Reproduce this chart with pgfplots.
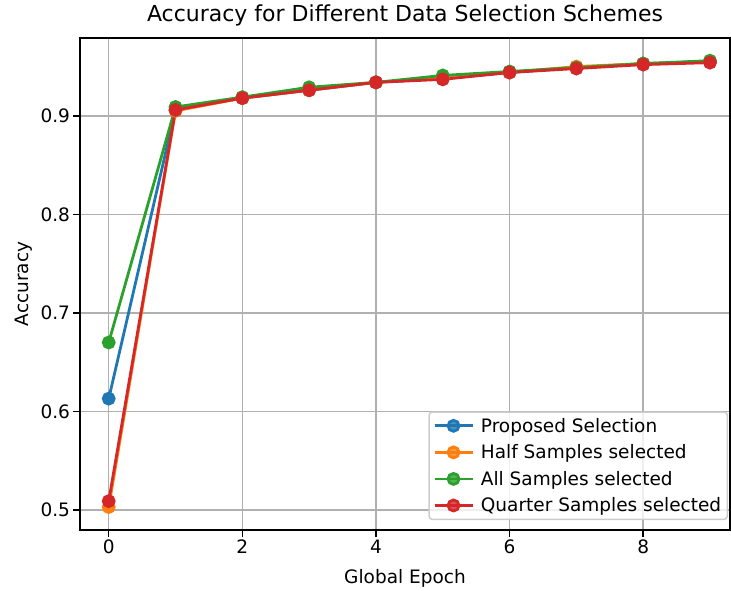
\documentclass[border=0pt]{standalone}
\usepackage{pgfplots}
\pgfplotsset{compat=1.18}
\usepackage{fontspec}
\setmainfont{DejaVu Sans}
\definecolor{c0}{HTML}{1F77B4}
\definecolor{c1}{HTML}{FF7F0E}
\definecolor{c2}{HTML}{2CA02C}
\definecolor{c3}{HTML}{D62728}
\begin{document}
\begin{tikzpicture}
\begin{axis}[
  scale only axis,
  width=650pt, height=492pt,
  xmin=-0.43, xmax=9.3,
  ymin=0.4797, ymax=0.979,
  xtick={0,2,4,6,8},
  ytick={0.5,0.6,0.7,0.8,0.9},
  /pgf/number format/assume math mode=true,
  yticklabel style={/pgf/number format/fixed,/pgf/number format/precision=1,/pgf/number format/fixed zerofill},
  tick style={black, line width=1.5pt},
  tick align=outside,
  major tick length=6.5pt,
  xtick pos=bottom, ytick pos=left,
  grid=major,
  major grid style={color=black!31, line width=1.5pt},
  axis line style={line width=1.5pt},
  tick label style={font=\fontsize{18.5}{22}\selectfont},
  xlabel style={font=\fontsize{18.5}{22}\selectfont, at={(axis description cs:0.5,-0.1077)}, anchor=base},
  ylabel style={font=\fontsize{18.5}{22}\selectfont, at={(axis description cs:-0.0785,0.5)}, anchor=base},
  title style={font=\fontsize{22}{26}\selectfont, at={(axis description cs:0.5,1.0215)}, anchor=base},
  title={Accuracy for Different Data Selection Schemes},
  xlabel={Global Epoch},
  ylabel={Accuracy},
  every axis plot/.append style={line width=2.8pt, mark=*, mark size=5.5pt, mark options={line width=1.8pt}},
  legend style={font=\fontsize{18.5}{22}\selectfont, draw=black!20, line width=1.5pt, rounded corners=3pt, fill=white, fill opacity=0.8, text opacity=1, draw opacity=1, row sep=7pt, inner xsep=4pt, inner ysep=4pt, at={(axis description cs:1,0)}, anchor=south east, xshift=-2pt, yshift=10pt},
  legend cell align=left,
  legend image code/.code={\draw[#1] (0pt,0pt) -- (38pt,0pt); \draw[#1, mark repeat=2, mark phase=2] plot coordinates {(0pt,0pt) (19pt,0pt) (38pt,0pt)};},
]
\addplot[color=c0, mark options={fill=c0}] coordinates {
(0,0.613) (1,0.906) (2,0.918) (3,0.926) (4,0.934) (5,0.938) (6,0.944) (7,0.949) (8,0.953) (9,0.955)};
\addlegendentry{\hspace{5pt}Proposed Selection}
\addplot[color=c1, mark options={fill=c1}] coordinates {
(0,0.503) (1,0.905) (2,0.918) (3,0.926) (4,0.934) (5,0.938) (6,0.944) (7,0.950) (8,0.953) (9,0.955)};
\addlegendentry{\hspace{5pt}Half Samples selected}
\addplot[color=c2, mark options={fill=c2}] coordinates {
(0,0.670) (1,0.909) (2,0.919) (3,0.929) (4,0.934) (5,0.941) (6,0.945) (7,0.949) (8,0.953) (9,0.956)};
\addlegendentry{\hspace{5pt}All Samples selected}
\addplot[color=c3, mark options={fill=c3}] coordinates {
(0,0.509) (1,0.906) (2,0.918) (3,0.926) (4,0.934) (5,0.937) (6,0.944) (7,0.948) (8,0.952) (9,0.954)};
\addlegendentry{\hspace{5pt}Quarter Samples selected}
\coordinate (ll) at (rel axis cs:0,0);
\coordinate (ur) at (rel axis cs:1,1);
\end{axis}
\pgfresetboundingbox
\path ([xshift=-80pt,yshift=-60pt]ll) rectangle ([xshift=1pt,yshift=38pt]ur);
\end{tikzpicture}
\end{document}
